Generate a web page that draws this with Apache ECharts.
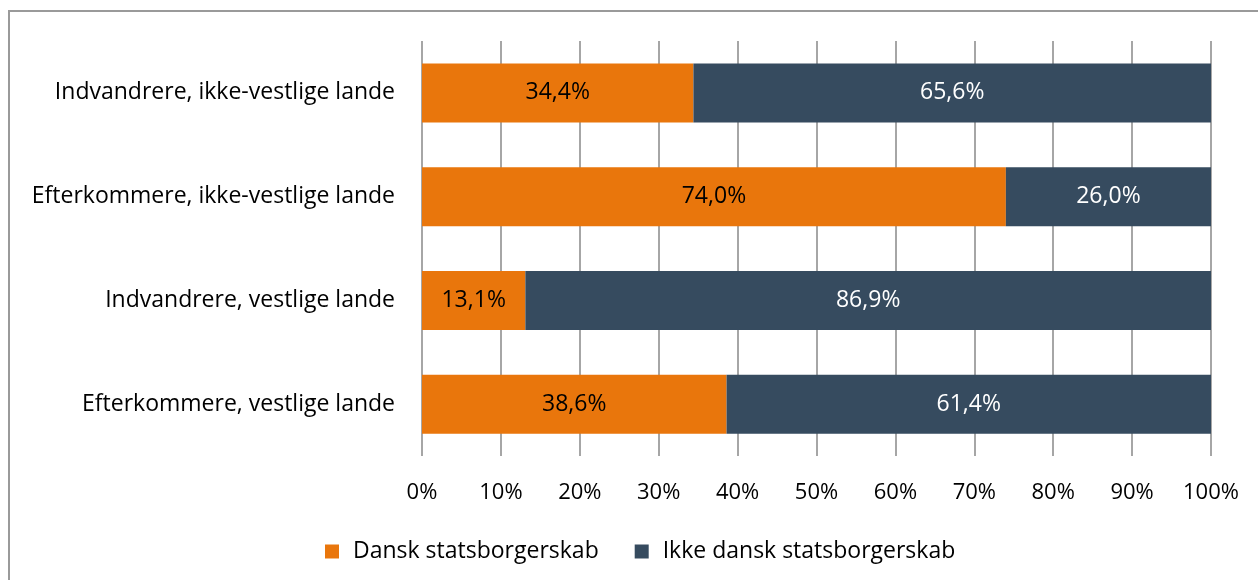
<!DOCTYPE html>
<html>
<head>
<meta charset="utf-8">
<script src="https://cdn.jsdelivr.net/npm/echarts@6/dist/echarts.min.js"></script>
<style>html,body{margin:0;padding:0;background:#fff;}#c{width:1258px;height:580px;}</style>
</head>
<body>
<div id="c"></div>
<script>
const categories = ["Indvandrere, ikke-vestlige lande", "Efterkommere, ikke-vestlige lande", "Indvandrere, vestlige lande", "Efterkommere, vestlige lande"];
const dansk = [34.4, 74.0, 13.1, 38.6];
const ikkeDansk = [65.6, 26.0, 86.9, 61.4];
const seriesNames = ["Dansk statsborgerskab", "Ikke dansk statsborgerskab"];
const xTicks = [0, 10, 20, 30, 40, 50, 60, 70, 80, 90, 100];

const FONT = "'Open Sans', sans-serif";
const chart = echarts.init(document.getElementById('c'));
const fmt = p => p.value.toFixed(1).replace('.', ',') + '%';
chart.setOption({
  animation: false,
  textStyle: { fontFamily: FONT },
  graphic: [{
    type: 'rect', shape: { x: 9, y: 11, width: 1300, height: 650 },
    style: { fill: 'none', stroke: '#9a9a9a', lineWidth: 2 }, silent: true, z: -10
  }],
  grid: { left: 422, right: 47, top: 41, bottom: 124 },
  xAxis: {
    type: 'value', min: xTicks[0], max: xTicks[xTicks.length - 1], interval: xTicks[1] - xTicks[0],
    axisLine: { show: false }, axisTick: { show: false },
    splitLine: { show: true, lineStyle: { color: '#a6a6a6', width: 2 } },
    axisLabel: { formatter: v => v + '%', fontSize: 22, color: '#000', margin: 26, fontFamily: FONT }
  },
  yAxis: {
    type: 'category', data: categories, inverse: true,
    axisLine: { show: false }, axisTick: { show: false },
    axisLabel: { fontSize: 23, color: '#000', margin: 27, fontFamily: FONT }
  },
  legend: {
    data: seriesNames, top: 535, left: 320, itemWidth: 14, itemHeight: 14, itemGap: 36,
    icon: 'rect', textStyle: { fontSize: 23, color: '#000', fontFamily: FONT, padding: [0, 0, 0, 9] }
  },
  series: [
    { name: seriesNames[0], type: 'bar', stack: 'a', data: dansk, barWidth: 59,
      itemStyle: { color: '#E9760C' },
      label: { show: true, position: 'inside', formatter: fmt, fontSize: 23, color: '#000', fontFamily: FONT } },
    { name: seriesNames[1], type: 'bar', stack: 'a', data: ikkeDansk, barWidth: 59,
      itemStyle: { color: '#364B5F' },
      label: { show: true, position: 'inside', formatter: fmt, fontSize: 23, color: '#fff', fontFamily: FONT } }
  ]
});
</script>
</body>
</html>
